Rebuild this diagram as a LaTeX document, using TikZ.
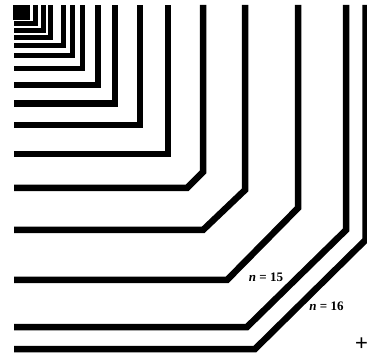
\documentclass[tikz,border=0pt]{standalone}
\usepackage{fontspec}
\setmainfont{Liberation Serif}
\newfontfamily\plusfont{Liberation Sans}
\begin{document}
\begin{tikzpicture}[x=1pt,y=-1pt,
  contour/.style={line width=6.5pt,line join=miter,line cap=butt},
  thin contour/.style={line width=5pt,line join=miter,line cap=butt},
  lab/.style={font=\fontsize{13}{13}\selectfont\bfseries,inner sep=0pt}]
\useasboundingbox (0,0) rectangle (367,358);
\begin{scope}
\clip (0,0) rectangle (367,358);
% innermost block
\fill (13,5) rectangle (30,20);
% small contours
\draw[thin contour] (14,24) -- (35,24) -- (35,5);
\draw[thin contour] (14,30.5) -- (43,30.5) -- (43,5);
\draw[thin contour] (14,37.5) -- (50.5,37.5) -- (50.5,5);
\draw[thin contour] (14,45.5) -- (63.5,45.5) -- (63.5,5);
\draw[thin contour] (14,55.5) -- (72,55.5) -- (72,5);
\draw[thin contour] (14,68.5) -- (82,68.5) -- (82,5);
% larger contours
\draw[contour] (14,85) -- (98,85) -- (98,5);
\draw[contour] (14,103.5) -- (115,103.5) -- (115,5);
\draw[contour] (14,125) -- (140,125) -- (140,5);
\draw[contour] (14,154) -- (168,154) -- (168,5);
\draw[contour] (14,188) -- (187,188) -- (203,172) -- (203,5);
\draw[contour] (14,230) -- (203,230) -- (245,190) -- (245,5);
\draw[contour] (14,280) -- (227,280) -- (298,208) -- (298,5);
\draw[contour] (14,327) -- (247,327) -- (346,230) -- (346,5);
\draw[contour] (14,349) -- (255,349) -- (365.5,240) -- (365.5,5);
\end{scope}
\node[lab] (n15) at (266,277.5) {\textit{n} = 15};
\node[lab] (n16) at (326.5,306) {\textit{n} = 16};
\node[inner sep=0pt,font=\plusfont\fontsize{22}{22}\selectfont] (plus) at (361.5,344) {+};
\end{tikzpicture}
\end{document}
